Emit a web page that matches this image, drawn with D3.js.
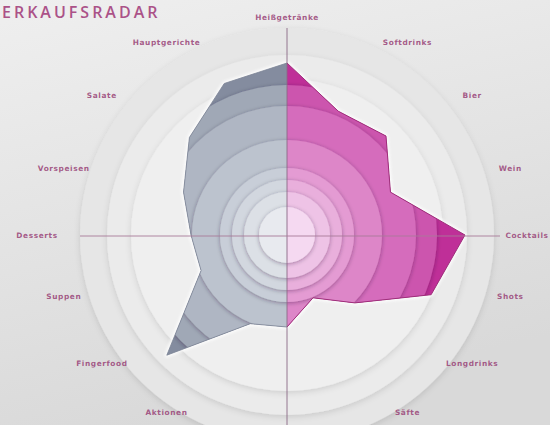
<!DOCTYPE html>
<html>
<head>
<meta charset="utf-8">
<script src="https://cdn.jsdelivr.net/npm/d3@7"></script>
<style>
  html, body { margin: 0; padding: 0; background: #e4e4e4; }
  svg { display: block; }
</style>
</head>
<body>
<svg id="chart" width="550" height="425"></svg>
<script>
// ---- data ----
const title = "ERKAUFSRADAR";
const categories = ["Heißgetränke", "Softdrinks", "Bier", "Wein", "Cocktails", "Shots", "Longdrinks", "Säfte",
                    "", "Aktionen", "Fingerfood", "Suppen", "Desserts", "Vorspeisen", "Salate", "Hauptgerichte"];
const values = [86, 67, 70, 56, 89, 78, 48, 34, 46, 48, 85, 46.5, 48, 56, 69, 82];
const ringLevels = [75, 64.5, 47.5, 33.5, 27.5, 21.5, 14];

// ---- layout ----
const W = 550, H = 425, cx = 287, cy = 235;
const svg = d3.select("#chart");
const defs = svg.append("defs");

const n = categories.length;
const angle = d3.scaleLinear().domain([0, n]).range([0, 2 * Math.PI]);
const r = d3.scaleLinear().domain([0, 100]).range([0, 200]);

// background gradient
const bg = defs.append("linearGradient").attr("id", "bg").attr("x1", 0).attr("y1", 0).attr("x2", 0.3).attr("y2", 1);
bg.append("stop").attr("offset", "0%").attr("stop-color", "#efefef");
bg.append("stop").attr("offset", "100%").attr("stop-color", "#d9d9d9");
svg.append("rect").attr("width", W).attr("height", H).attr("fill", "url(#bg)");

// filters
const sh = defs.append("filter").attr("id", "shadow").attr("x", "-20%").attr("y", "-20%").attr("width", "140%").attr("height", "140%");
sh.append("feDropShadow").attr("dx", 0).attr("dy", 1).attr("stdDeviation", 2)
  .attr("flood-color", "#2a1030").attr("flood-opacity", 0.38);
const shSoft = defs.append("filter").attr("id", "soft").attr("x", "-20%").attr("y", "-20%").attr("width", "140%").attr("height", "140%");
shSoft.append("feDropShadow").attr("dx", 0).attr("dy", 2).attr("stdDeviation", 3)
  .attr("flood-color", "#000").attr("flood-opacity", 0.12);
const blur = defs.append("filter").attr("id", "blur");
blur.append("feGaussianBlur").attr("stdDeviation", 1.5);

const g = svg.append("g").attr("transform", `translate(${cx},${cy})`);

// decorative background discs
[[207, "#e6e6e6"], [180, "#ebebeb"], [156, "#efefef"]].forEach(([rad, col]) => {
  g.append("circle").attr("r", rad).attr("fill", col).attr("filter", "url(#soft)");
});

// polygon
const line = d3.lineRadial()
  .angle((d, i) => angle(i))
  .radius(d => r(d))
  .curve(d3.curveLinearClosed);
const polyD = line(values);

defs.append("clipPath").attr("id", "poly").append("path").attr("d", polyD);
defs.append("clipPath").attr("id", "rightHalf").append("rect").attr("x", 0).attr("y", -300).attr("width", 300).attr("height", 600);
defs.append("clipPath").attr("id", "leftHalf").append("rect").attr("x", -300).attr("y", -300).attr("width", 300).attr("height", 600);

// white halo
g.append("path").attr("d", polyD).attr("fill", "none").attr("stroke", "#ffffff")
  .attr("stroke-width", 4).attr("stroke-linejoin", "round").attr("filter", "url(#blur)").attr("opacity", 0.9);

const pinkCols = ["#bf2f98", "#cc54ae", "#d56cbc", "#dd86c8", "#e49bd3", "#e9afdc", "#eec3e6", "#f5d9f1"];
const grayCols = ["#848c9f", "#a0a8b6", "#afb6c3", "#bcc3ce", "#c8ced8", "#d2d7df", "#dce0e6", "#e8eaef"];
const bands = [100].concat(ringLevels);

function halfFill(clipId, cols) {
  const gg = g.append("g").attr("clip-path", "url(#poly)").append("g").attr("clip-path", `url(#${clipId})`);
  gg.selectAll("circle").data(bands).join("circle")
    .attr("r", d => r(d))
    .attr("fill", (d, i) => cols[i])
    .attr("filter", (d, i) => i === 0 ? null : "url(#shadow)");
}
halfFill("rightHalf", pinkCols);
halfFill("leftHalf", grayCols);

// outlines
g.append("g").attr("clip-path", "url(#rightHalf)").append("path").attr("d", polyD)
  .attr("fill", "none").attr("stroke", "#9e2f7a").attr("stroke-width", 1).attr("stroke-linejoin", "round");
g.append("g").attr("clip-path", "url(#leftHalf)").append("path").attr("d", polyD)
  .attr("fill", "none").attr("stroke", "#7c8496").attr("stroke-width", 0.8).attr("stroke-linejoin", "round");

// axis lines
g.append("line").attr("x1", 0).attr("x2", 0).attr("y1", -207).attr("y2", H - cy)
  .attr("stroke", "#8a6a86").attr("stroke-width", 0.9);
g.append("line").attr("x1", -207).attr("x2", 213).attr("y1", 1).attr("y2", 1)
  .attr("stroke", "#a87a98").attr("stroke-width", 0.9);

// labels
const A = 236, Bt = 212, Bb = 195;
function labelPos(i) {
  const a = angle(i), s = Math.sin(a), c = Math.cos(a);
  const x = A * Math.sign(s) * Math.pow(Math.abs(s), 0.7);
  const y = -(c > 0 ? Bt : Bb) * Math.sign(c) * Math.pow(Math.abs(c), 1.2);
  return [x, y];
}
g.selectAll("text.lab").data(categories.map((c, i) => ({ c, i })).filter(d => d.c !== ""))
  .join("text").attr("class", "lab")
  .attr("x", d => labelPos(d.i)[0] + (d.i === 12 ? -14 : 0) + (d.i === 4 ? 4 : 0))
  .attr("y", d => d.i === 0 ? -218 : labelPos(d.i)[1])
  .attr("text-anchor", "middle")
  .attr("dominant-baseline", "central")
  .attr("font-family", "DejaVu Sans, sans-serif")
  .attr("font-weight", "bold")
  .attr("font-size", 7.4)
  .attr("letter-spacing", 0.6)
  .attr("fill", "#9c4a7c")
  .attr("fill-opacity", 0.9)
  .text(d => d.c);

// title
svg.append("text").attr("x", 2).attr("y", 18)
  .attr("font-family", "Open Sans, sans-serif")
  .attr("font-weight", 600)
  .attr("font-size", 16).attr("letter-spacing", 3)
  .attr("fill", "#ab5288")
  .text(title);
</script>
</body>
</html>
